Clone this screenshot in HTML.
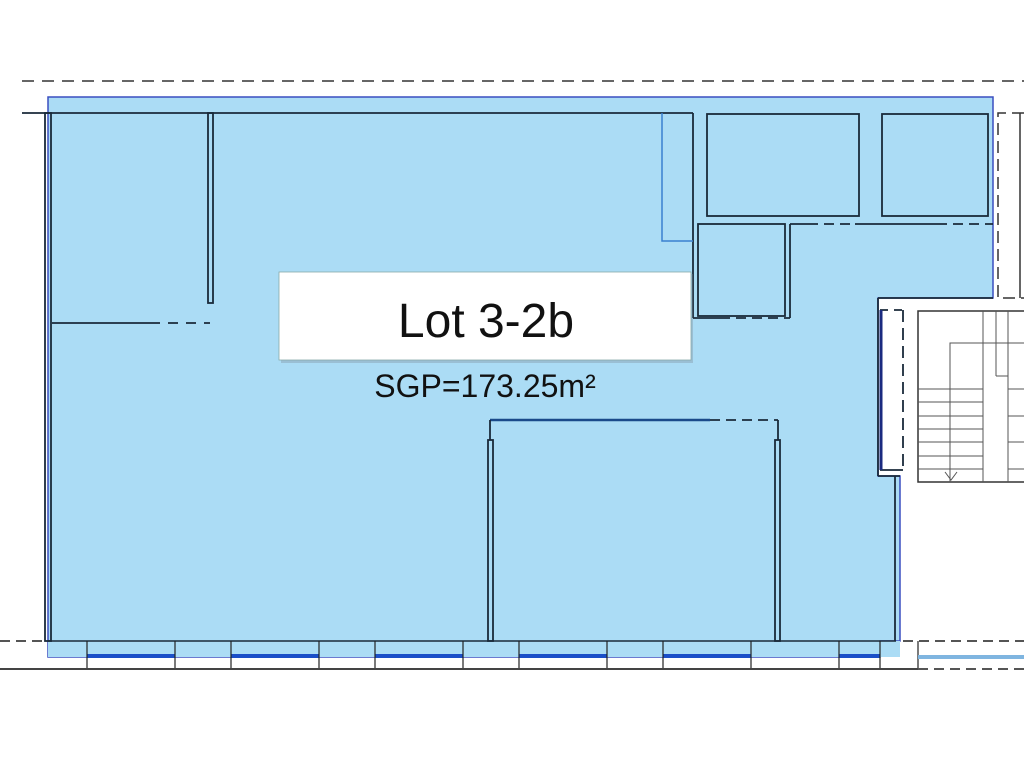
<!DOCTYPE html>
<html><head><meta charset="utf-8"><style>
html,body{margin:0;padding:0;background:#fff;}
svg{display:block;}
</style></head><body>
<svg width="1024" height="768" viewBox="0 0 1024 768" xmlns="http://www.w3.org/2000/svg">
<rect width="1024" height="768" fill="#fff"/>
<line x1="22" y1="81" x2="1024" y2="81" stroke="#666" stroke-width="2" stroke-dasharray="12,8"/>
<polygon points="48,97 993,97 993,298 878,298 878,476 900,476 900,641 880,641 880,657 48,657" fill="#abdcf5" stroke="#3a4fc0" stroke-width="1.5"/>
<rect x="48" y="641" width="852" height="16" fill="#abdcf5"/>
<line x1="48" y1="641" x2="896" y2="641" stroke="#1a2a3a" stroke-width="1.5"/>
<g fill="#1b4fc8">
<rect x="87" y="654" width="88" height="4"/><rect x="231" y="654" width="88" height="4"/>
<rect x="375" y="654" width="88" height="4"/><rect x="519" y="654" width="88" height="4"/>
<rect x="663" y="654" width="88" height="4"/><rect x="839" y="654" width="41" height="4"/>
</g>
<g stroke="#222" stroke-width="1.2">
<line x1="87" y1="641" x2="87" y2="669"/><line x1="175" y1="641" x2="175" y2="669"/>
<line x1="231" y1="641" x2="231" y2="669"/><line x1="319" y1="641" x2="319" y2="669"/>
<line x1="375" y1="641" x2="375" y2="669"/><line x1="463" y1="641" x2="463" y2="669"/>
<line x1="519" y1="641" x2="519" y2="669"/><line x1="607" y1="641" x2="607" y2="669"/>
<line x1="663" y1="641" x2="663" y2="669"/><line x1="751" y1="641" x2="751" y2="669"/>
<line x1="839" y1="641" x2="839" y2="669"/><line x1="880" y1="641" x2="880" y2="669"/>
<line x1="918" y1="641" x2="918" y2="669"/>
</g>
<line x1="0" y1="669" x2="918" y2="669" stroke="#444" stroke-width="2"/>
<line x1="0" y1="641" x2="48" y2="641" stroke="#555" stroke-width="2" stroke-dasharray="10,6"/>
<line x1="903" y1="641" x2="1024" y2="641" stroke="#555" stroke-width="2" stroke-dasharray="10,6"/>
<line x1="918" y1="669" x2="1024" y2="669" stroke="#555" stroke-width="2" stroke-dasharray="10,6"/>
<rect x="918" y="655" width="106" height="4" fill="#7fb5e0"/>
<g stroke="#1a2a3a" stroke-width="1.8" fill="none">
<line x1="22" y1="113" x2="693" y2="113"/>
<rect x="45" y="113" width="6" height="528"/>
<rect x="208" y="113" width="5" height="190"/>
<line x1="52" y1="323" x2="150" y2="323"/>
<line x1="150" y1="323" x2="210" y2="323" stroke-dasharray="10,8"/>
<line x1="693" y1="113" x2="693" y2="318"/>
<rect x="707" y="114" width="152" height="102"/>
<rect x="882" y="114" width="106" height="102"/>
<rect x="698" y="224" width="87" height="92"/>
<line x1="790" y1="224" x2="790" y2="318"/>
<line x1="693" y1="318" x2="720" y2="318"/>
<line x1="720" y1="318" x2="790" y2="318" stroke-dasharray="10,6"/>
<line x1="790" y1="224" x2="808" y2="224"/>
<line x1="808" y1="224" x2="855" y2="224" stroke-dasharray="10,6"/>
<line x1="855" y1="224" x2="937" y2="224"/>
<line x1="937" y1="224" x2="993" y2="224" stroke-dasharray="10,6"/>
<line x1="878" y1="298" x2="993" y2="298"/>
<line x1="878" y1="298" x2="878" y2="476"/>
<line x1="878" y1="476" x2="900" y2="476"/>
<rect x="488" y="440" width="5" height="201"/>
<rect x="775" y="440" width="5" height="201"/>
<line x1="490" y1="420" x2="710" y2="420" stroke="#1a4a8a" stroke-width="2.5"/>
<line x1="710" y1="420" x2="778" y2="420" stroke-dasharray="10,6"/>
<line x1="490" y1="420" x2="490" y2="440"/>
<line x1="778" y1="420" x2="778" y2="440"/>
<line x1="895" y1="476" x2="895" y2="641"/>
<line x1="880" y1="310" x2="903" y2="310" stroke-dasharray="8,6"/>
<line x1="903" y1="310" x2="903" y2="470" stroke-dasharray="12,6"/>
<line x1="880" y1="470" x2="903" y2="470"/>
</g>
<polyline points="662,113 662,241 693,241" fill="none" stroke="#3a80d0" stroke-width="1.5"/>
<line x1="881" y1="310" x2="881" y2="470" stroke="#1a2a80" stroke-width="3"/>
<g stroke="#333" stroke-width="1.5" fill="none">
<polyline points="1024,113 998,113 998,298 1024,298" stroke-dasharray="12,6"/>
<line x1="1020" y1="113" x2="1020" y2="298"/>
<polyline points="1024,311 918,311 918,482 1024,482"/>
</g>
<g stroke="#555" stroke-width="1" fill="none">
<line x1="983" y1="311" x2="983" y2="482"/>
<line x1="996" y1="311" x2="996" y2="376"/>
<line x1="1008" y1="311" x2="1008" y2="482"/>
<polyline points="950,482 950,343 1024,343"/>
<line x1="996" y1="376" x2="1008" y2="376"/>
<line x1="918" y1="389" x2="983" y2="389"/><line x1="918" y1="402" x2="983" y2="402"/>
<line x1="918" y1="416" x2="983" y2="416"/><line x1="918" y1="429" x2="983" y2="429"/>
<line x1="918" y1="442" x2="983" y2="442"/><line x1="918" y1="456" x2="983" y2="456"/>
<line x1="918" y1="469" x2="983" y2="469"/>
<line x1="1008" y1="389" x2="1024" y2="389"/><line x1="1008" y1="416" x2="1024" y2="416"/>
<line x1="1008" y1="442" x2="1024" y2="442"/><line x1="1008" y1="469" x2="1024" y2="469"/>
<polyline points="945,472 951,480 957,472"/>
</g>
<rect x="281" y="274" width="412" height="89" fill="#7a8a99" opacity="0.35"/>
<rect x="279" y="272" width="412" height="88" fill="#fff" stroke="#8aa" stroke-width="0.8"/>
<text x="486" y="337" text-anchor="middle" font-family="Liberation Sans, sans-serif" font-size="48" fill="#111">Lot 3-2b</text>
<text x="485" y="397" text-anchor="middle" font-family="Liberation Sans, sans-serif" font-size="32" fill="#111">SGP=173.25m²</text>
</svg>
</body></html>
